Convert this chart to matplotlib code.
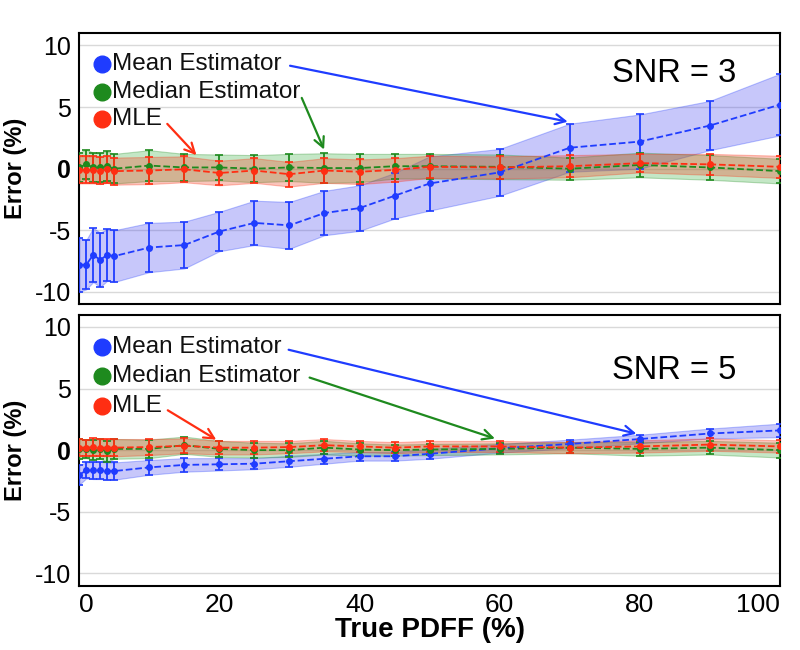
import numpy as np
import matplotlib
matplotlib.use("Agg")
import matplotlib.pyplot as plt

plt.rcParams["font.family"] = ["Liberation Sans", "DejaVu Sans"]
plt.rcParams["axes.unicode_minus"] = False

# true PDFF (%)
pdff = [0, 1, 2, 3, 4, 5, 10, 15, 20, 25, 30, 35, 40, 45, 50, 60, 70, 80, 90, 100]

# SNR = 3
snr3_mean = [-7.8, -7.8, -7.0, -7.4, -7.0, -7.1, -6.4, -6.2, -5.1, -4.4, -4.6, -3.6, -3.2, -2.2, -1.2, -0.3, 1.7, 2.2, 3.5, 5.2]
snr3_mean_sd = [2.2, 2.0, 2.2, 2.2, 2.1, 2.1, 2.0, 1.9, 1.6, 1.8, 1.9, 1.8, 1.85, 1.85, 2.2, 1.9, 1.95, 2.2, 2.0, 2.5]
snr3_median = [0.1, 0.35, 0.1, 0.1, 0.2, 0.0, 0.25, 0.1, 0.1, 0.0, 0.1, 0.05, 0.05, 0.2, 0.2, 0.15, 0.0, 0.3, 0.1, -0.2]
snr3_median_sd = [1.2, 1.2, 1.2, 1.2, 1.2, 1.2, 1.25, 1.1, 1.05, 1.1, 1.1, 1.2, 1.15, 1.0, 1.0, 1.0, 0.9, 1.0, 1.0, 1.0]
snr3_mle = [-0.1, -0.1, -0.1, -0.15, -0.05, -0.2, -0.15, -0.05, -0.35, -0.15, -0.45, -0.15, -0.25, -0.1, 0.15, 0.1, 0.2, 0.45, 0.35, 0.15]
snr3_mle_sd = [1.1, 1.1, 1.1, 1.1, 1.1, 1.1, 1.1, 1.05, 1.0, 1.0, 1.0, 1.0, 1.0, 0.95, 0.9, 0.9, 0.9, 0.75, 0.85, 0.9]

# SNR = 5
snr5_mean = [-2.0, -1.65, -1.65, -1.65, -1.7, -1.7, -1.4, -1.2, -1.15, -1.1, -0.9, -0.7, -0.5, -0.5, -0.3, 0.15, 0.5, 0.9, 1.35, 1.6]
snr5_mean_sd = [0.8, 0.65, 0.7, 0.7, 0.7, 0.7, 0.6, 0.55, 0.5, 0.45, 0.45, 0.4, 0.35, 0.35, 0.4, 0.35, 0.35, 0.35, 0.4, 0.55]
snr5_median = [0.1, 0.1, 0.0, 0.1, -0.1, 0.1, 0.1, 0.4, 0.1, 0.0, 0.0, 0.2, 0.05, 0.0, 0.05, 0.1, 0.2, 0.1, 0.2, 0.0]
snr5_median_sd = [0.8, 0.75, 0.8, 0.8, 0.85, 0.8, 0.75, 0.7, 0.65, 0.6, 0.55, 0.55, 0.5, 0.45, 0.45, 0.45, 0.45, 0.55, 0.55, 0.6]
snr5_mle = [0.2, 0.2, 0.25, 0.2, 0.2, 0.2, 0.25, 0.35, 0.2, 0.2, 0.25, 0.4, 0.3, 0.2, 0.3, 0.3, 0.2, 0.3, 0.45, 0.3]
snr5_mle_sd = [0.7, 0.65, 0.7, 0.7, 0.7, 0.7, 0.65, 0.6, 0.55, 0.55, 0.5, 0.5, 0.45, 0.45, 0.45, 0.45, 0.45, 0.5, 0.5, 0.5]

labels = ["Mean Estimator", "Median Estimator", "MLE"]
colors = ["#1f3cff", "#1e8a1e", "#ff2e12"]
fill_colors = ["#4646f0", "#3cb043", "#f03c1e"]


def draw_panel(ax, series, snr_text, snr_y, label_ys, arrow_tails, arrow_heads):
    for (mean, sd), color, fcol in zip(series, colors, fill_colors):
        mean = np.array(mean)
        sd = np.array(sd)
        ax.fill_between(pdff, mean - sd, mean + sd, color=fcol, alpha=0.3,
                        edgecolor=color, linewidth=0.8, zorder=2)
        ax.errorbar(pdff, mean, yerr=sd, color=color, fmt="o", ms=4,
                    elinewidth=1.3, capsize=3, capthick=1.2, zorder=3)
        ax.plot(pdff, mean, "--", color=color, lw=1.3, zorder=3)

    ax.set_xlim(0, 100)
    ax.set_ylim(-11, 11)
    ax.set_yticks([-10, -5, 0, 5, 10])
    ax.set_yticklabels(["-10", "-5", "0", "5", "10"])
    ax.get_yticklabels()[2].set_fontweight("bold")
    ax.grid(axis="y", color="#d9d9d9", lw=1)
    ax.set_axisbelow(True)
    ax.tick_params(length=0, labelsize=18, pad=6)
    for sp in ax.spines.values():
        sp.set_linewidth(1.5)
    ax.set_ylabel("Error (%)", fontsize=17, fontweight="bold")
    ax.yaxis.set_label_coords(-0.075, 0.5)

    # hand-drawn legend with arrows
    for lab, color, ly, tail, head in zip(labels, colors, label_ys, arrow_tails, arrow_heads):
        ax.plot(3.2, ly, "o", color=color, ms=12, zorder=5, clip_on=False)
        ax.text(4.7, ly, lab, fontsize=17.5, va="center", ha="left", color="#111111", zorder=5)
        ax.annotate("", xy=head, xytext=tail,
                    arrowprops=dict(arrowstyle="->", color=color, lw=1.6,
                                    mutation_scale=18), zorder=5)

    ax.text(84.9, snr_y, snr_text, fontsize=23.5, ha="center", va="center")


fig = plt.figure(figsize=(8, 6.5), dpi=100)
ax1 = fig.add_axes([0.099, 0.532, 0.876, 0.417])
ax2 = fig.add_axes([0.099, 0.099, 0.876, 0.417])

draw_panel(
    ax1,
    [(snr3_mean, snr3_mean_sd), (snr3_median, snr3_median_sd), (snr3_mle, snr3_mle_sd)],
    "SNR = 3", 7.7,
    [8.5, 6.25, 4.0],
    [(29.7, 8.4), (31.6, 5.95), (12.3, 3.8)],
    [(70.1, 3.77), (35.1, 1.34), (17.0, 0.93)],
)
ax1.set_xticklabels([])

draw_panel(
    ax2,
    [(snr5_mean, snr5_mean_sd), (snr5_median, snr5_median_sd), (snr5_mle, snr5_mle_sd)],
    "SNR = 5", 6.5,
    [8.4, 6.0, 3.6],
    [(29.5, 8.2), (32.5, 5.96), (12.3, 3.35)],
    [(79.9, 1.28), (59.7, 0.87), (19.9, 0.73)],
)
ax2.set_xticks([0, 20, 40, 60, 80, 100])
ax2.tick_params(axis="x", labelsize=19, pad=5)
xlabels = ax2.get_xticklabels()
xlabels[0].set_horizontalalignment("left")
xlabels[-1].set_horizontalalignment("right")
ax2.set_xlabel("True PDFF (%)", fontsize=20, fontweight="bold", labelpad=0)

fig.savefig("out.png", dpi=100)
